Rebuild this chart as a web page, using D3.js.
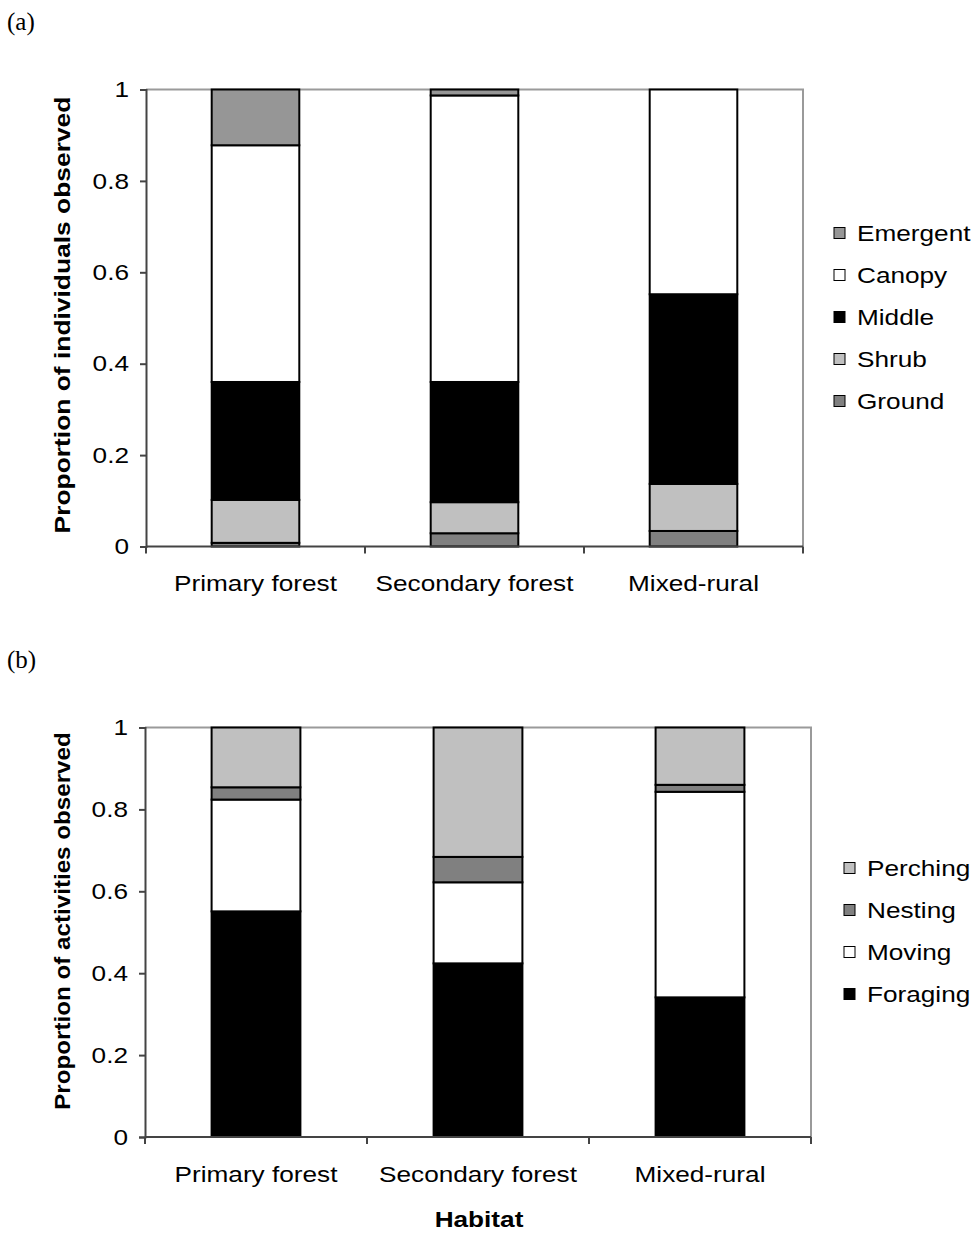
<!DOCTYPE html>
<html>
<head>
<meta charset="utf-8">
<script src="https://d3js.org/d3.v7.min.js"></script>
<style>
  html, body { margin: 0; padding: 0; background: #fff; }
  svg { display: block; }
</style>
</head>
<body>
<script>
// Habitat categories shared by both panels
const habitats = ["Primary forest", "Secondary forest", "Mixed-rural"];
const yTicks = [0, 0.2, 0.4, 0.6, 0.8, 1];
const yTickLabels = ["0", "0.2", "0.4", "0.6", "0.8", "1"];

// Panel (a): vertical stratum, proportion of individuals (stack order bottom -> top)
const strata = ["Ground", "Shrub", "Middle", "Canopy", "Emergent"];
const ground   = [0.008, 0.029, 0.034];
const shrub    = [0.094, 0.068, 0.103];
const middle   = [0.258, 0.263, 0.415];
const canopy   = [0.518, 0.627, 0.448];
const emergent = [0.122, 0.013, 0.000];
const strataColors = ["#808080", "#c0c0c0", "#000000", "#ffffff", "#969696"];

// Panel (b): activity, proportion of activities (stack order bottom -> top)
const activities = ["Foraging", "Moving", "Nesting", "Perching"];
const foraging = [0.551, 0.424, 0.341];
const moving   = [0.273, 0.198, 0.502];
const nesting  = [0.030, 0.062, 0.017];
const perching = [0.146, 0.316, 0.140];
const activityColors = ["#000000", "#ffffff", "#808080", "#c0c0c0"];

const W = 971, H = 1235;
const SANS = "'Liberation Sans', Arial, sans-serif";
const FS = 22;      // label font size
const SX = 1.19;    // horizontal widening of the sans labels

const svg = d3.select("body").append("svg")
  .attr("width", W).attr("height", H)
  .style("font-family", SANS);

// text placed at (x, y), optionally rotated, glyphs widened along the baseline
function label(parent, x, y, str, o = {}) {
  return parent.append("text")
    .attr("transform", `translate(${x},${y})${o.rotate ? ` rotate(${o.rotate})` : ""} scale(${o.sx || SX},1)`)
    .attr("dy", "0.35em")
    .attr("text-anchor", o.anchor || "start")
    .attr("font-size", o.size || FS)
    .attr("font-weight", o.bold ? "bold" : null)
    .attr("font-family", o.family || SANS)
    .attr("fill", "#000")
    .text(str);
}

function drawPanel(opt) {
  const g = svg.append("g");
  const x = d3.scaleBand().domain(habitats)
    .range([opt.left, opt.right]).paddingInner(0.6).paddingOuter(0.3);
  const xb = d3.scaleBand().domain(habitats).range([opt.left, opt.right]);
  const y = d3.scaleLinear().domain([0, 1]).range([opt.bottom, opt.top]);

  // plot area frame (top and right edges)
  g.append("path")
    .attr("d", `M${opt.left},${opt.top}H${opt.right}V${opt.bottom}`)
    .attr("fill", "none").attr("stroke", "#9a9a9a").attr("stroke-width", 2);

  // stacked bars
  const rows = habitats.map((h, i) => {
    const r = { habitat: h };
    opt.keys.forEach((k, j) => { r[k] = opt.values[j][i]; });
    return r;
  });
  const stacked = d3.stack().keys(opt.keys)(rows);
  stacked.forEach((layer, j) => {
    g.append("g").selectAll("rect").data(layer.filter(d => d[1] - d[0] > 0)).join("rect")
      .attr("x", d => x(d.data.habitat))
      .attr("width", x.bandwidth())
      .attr("y", d => y(d[1]))
      .attr("height", d => y(d[0]) - y(d[1]))
      .attr("fill", opt.colors[j])
      .attr("stroke", "#000").attr("stroke-width", 2);
  });

  // y axis line and ticks
  const yAxis = d3.axisLeft(y).tickValues(yTicks).tickFormat("").tickSize(6);
  const ya = g.append("g").attr("transform", `translate(${opt.left},0)`).call(yAxis);
  ya.select(".domain").attr("stroke", "#444").attr("stroke-width", 2);
  ya.selectAll(".tick line").attr("stroke", "#444").attr("stroke-width", 2);
  yTicks.forEach((t, i) => label(g, opt.left - 17, y(t), yTickLabels[i], { anchor: "end" }));

  // x axis: ticks at category boundaries
  const xa = g.append("g").attr("transform", `translate(0,${opt.bottom})`);
  xa.append("line").attr("x1", opt.left).attr("x2", opt.right)
    .attr("stroke", "#444").attr("stroke-width", 2);
  const edges = habitats.map(h => xb(h)).concat([opt.right]);
  xa.selectAll("line.tk").data(edges).join("line").attr("class", "tk")
    .attr("x1", d => d).attr("x2", d => d).attr("y1", 0).attr("y2", 7)
    .attr("stroke", "#444").attr("stroke-width", 2);
  habitats.forEach(h => label(g, xb(h) + xb.bandwidth() / 2, opt.bottom + 37, h, { anchor: "middle" }));

  // y axis title
  label(g, opt.titleX, opt.titleY, opt.yTitle,
    { anchor: "middle", rotate: -90, bold: true, sx: opt.titleSX });

  // legend, top entry is last stacked series
  const order = opt.keys.map((k, j) => j).reverse();
  order.forEach((j, i) => {
    const cy = opt.legendTop + i * 42;
    g.append("rect").attr("x", opt.legendX).attr("y", cy - 5.5)
      .attr("width", 11).attr("height", 11)
      .attr("fill", opt.colors[j]).attr("stroke", "#000").attr("stroke-width", 1);
    label(g, opt.legendX + 23, cy, opt.keys[j]);
  });

  // panel letter
  label(g, 7, opt.letterY, opt.letter,
    { family: "'Liberation Serif', 'DejaVu Serif', serif", size: 25, sx: 1 });
}

drawPanel({
  left: 146, right: 803, top: 89.5, bottom: 546.5,
  keys: strata, values: [ground, shrub, middle, canopy, emergent], colors: strataColors,
  yTitle: "Proportion of individuals observed", titleX: 62, titleY: 315, titleSX: 1.2,
  legendX: 834, legendTop: 233, letter: "(a)", letterY: 21
});

drawPanel({
  left: 145, right: 811, top: 727.5, bottom: 1137,
  keys: activities, values: [foraging, moving, nesting, perching], colors: activityColors,
  yTitle: "Proportion of activities observed", titleX: 62, titleY: 921, titleSX: 1.1,
  legendX: 844, legendTop: 868, letter: "(b)", letterY: 659
});

// shared x axis title
label(svg, 479, 1219, "Habitat", { anchor: "middle", bold: true });
</script>
</body>
</html>
